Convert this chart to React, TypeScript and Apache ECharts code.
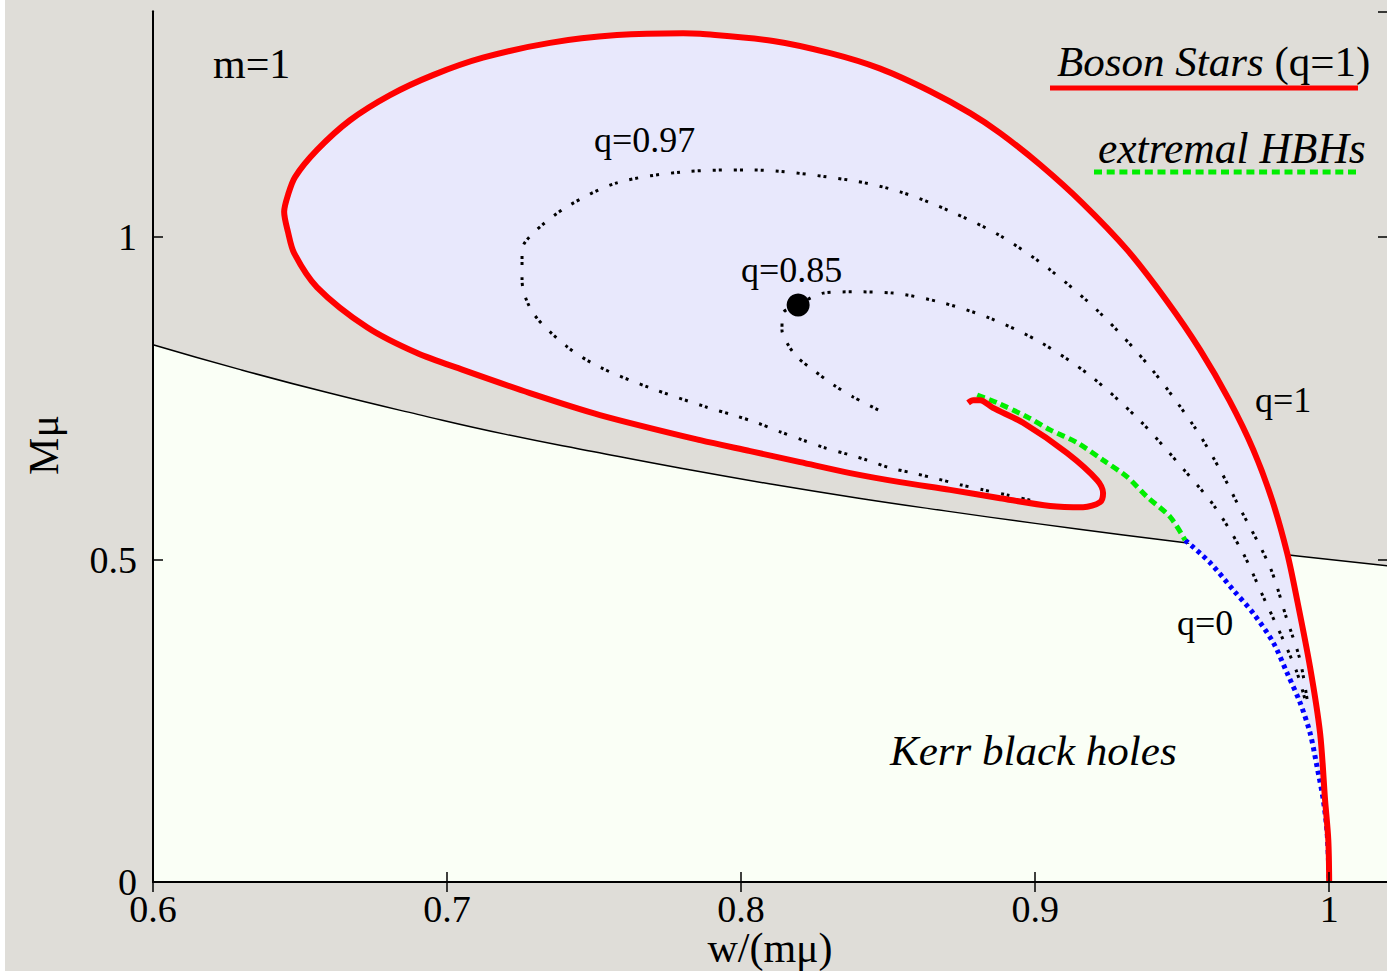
import React, { useEffect, useRef } from "react";
import * as echarts from "echarts";

// Axis ranges and ticks
const W_MIN = 0.6;
const W_MAX = 1.02;
const M_MIN = 0;
const M_MAX = 1.35;
const W_TICK = 0.1;
const M_TICK = 0.5;

// Extremal Kerr boundary, M mu against w/(m mu)
const kerrLine: [number, number][] = [
  [0.6, 0.833], [0.63, 0.794], [0.66, 0.758], [0.69, 0.725], [0.72, 0.694],
  [0.75, 0.667], [0.78, 0.641], [0.81, 0.617], [0.84, 0.595], [0.87, 0.575],
  [0.9, 0.556], [0.93, 0.538], [0.96, 0.521], [0.99, 0.505], [1.02, 0.49],
];

// Boson stars (q = 1), from the vacuum limit along the spiral
const bosonStars: [number, number][] = [
  [1.0, 0.0], [0.9997, 0.065], [0.9986, 0.127], [0.9969, 0.231], [0.9935, 0.333],
  [0.9891, 0.437], [0.9857, 0.51], [0.9806, 0.592], [0.9742, 0.67], [0.966, 0.747],
  [0.9561, 0.825], [0.9446, 0.902], [0.9313, 0.98], [0.916, 1.053], [0.9017, 1.112],
  [0.8881, 1.161], [0.8779, 1.192], [0.8643, 1.226], [0.8473, 1.261], [0.8303, 1.285],
  [0.8109, 1.304], [0.7861, 1.315], [0.7803, 1.316], [0.7578, 1.313], [0.735, 1.301],
  [0.7122, 1.278], [0.6952, 1.251], [0.6806, 1.22], [0.667, 1.181], [0.6558, 1.135],
  [0.6483, 1.093], [0.6459, 1.065], [0.6446, 1.039], [0.6459, 1.008], [0.648, 0.975],
  [0.6558, 0.922], [0.6728, 0.86], [0.6898, 0.82], [0.7054, 0.794], [0.7282, 0.758],
  [0.752, 0.724], [0.7861, 0.685], [0.8031, 0.668], [0.8201, 0.651], [0.8371, 0.634],
  [0.8541, 0.62], [0.8711, 0.608], [0.8881, 0.595], [0.9051, 0.583], [0.9163, 0.581],
  [0.9221, 0.589], [0.9231, 0.603], [0.9211, 0.623], [0.9109, 0.665], [0.8959, 0.712],
  [0.8857, 0.735], [0.8813, 0.747], [0.8789, 0.747], [0.8772, 0.743],
];

// Extremal hairy black holes
const extremalHBH: [number, number][] = [
  [0.8803, 0.755], [0.8871, 0.743], [0.8973, 0.721], [0.9051, 0.701], [0.9143, 0.681],
  [0.9231, 0.654], [0.9313, 0.628], [0.9381, 0.597], [0.9459, 0.566], [0.951, 0.53],
];

// Existence line q = 0
const qZero: [number, number][] = [
  [0.951, 0.53], [0.9595, 0.495], [0.9673, 0.453], [0.9741, 0.417], [0.981, 0.371],
  [0.9857, 0.324], [0.9901, 0.278], [0.9935, 0.231], [0.9959, 0.178], [0.998, 0.127],
  [0.9993, 0.076], [1.0, 0.0],
];

// Hairy black holes with fixed q
const q097: [number, number][] = [
  [0.8983, 0.592], [0.8905, 0.6], [0.8823, 0.608], [0.8745, 0.616], [0.8667, 0.625],
  [0.8585, 0.634], [0.8507, 0.642], [0.8429, 0.654], [0.8371, 0.662], [0.8279, 0.674],
  [0.8211, 0.685], [0.8133, 0.698], [0.8054, 0.712], [0.7973, 0.724], [0.7884, 0.736],
  [0.7691, 0.766], [0.752, 0.798], [0.7408, 0.83], [0.7293, 0.882], [0.7255, 0.933],
  [0.7255, 0.98], [0.7293, 1.006], [0.7408, 1.047], [0.7578, 1.084], [0.7803, 1.101],
  [0.8031, 1.104], [0.8371, 1.088], [0.8541, 1.07], [0.8711, 1.04], [0.8881, 1.002],
  [0.9051, 0.949], [0.9221, 0.882], [0.9391, 0.798], [0.9544, 0.704], [0.9629, 0.639],
  [0.969, 0.585], [0.9799, 0.488], [0.9857, 0.406], [0.9901, 0.344], [0.9929, 0.271],
];

const q085: [number, number][] = [
  [0.8466, 0.732], [0.8381, 0.752], [0.8313, 0.771], [0.8245, 0.794], [0.819, 0.814],
  [0.8156, 0.836], [0.8139, 0.856], [0.8143, 0.882], [0.8194, 0.895], [0.8279, 0.913],
  [0.8381, 0.915], [0.8517, 0.913], [0.8677, 0.899], [0.8847, 0.874], [0.9017, 0.837],
  [0.9187, 0.785], [0.9357, 0.715], [0.951, 0.637], [0.9612, 0.581], [0.9707, 0.51],
  [0.9776, 0.442], [0.9844, 0.375], [0.9891, 0.324], [0.9925, 0.271],
];

// Endpoint of the q = 0.85 sequence
const q085End: [number, number][] = [[0.8194, 0.8946]];

// Domain of existence: boson-star line, extremal line, q = 0 line
const existenceRegion: [number, number][] = [...bosonStars, ...extremalHBH, ...qZero];

const SERIF = "'Liberation Serif', 'Times New Roman', serif";

const fmtTick = (v: number, step: number) => {
  const k = Math.round(v / step);
  if (Math.abs(v - k * step) > 1e-6) return "";
  return String(Number(v.toFixed(2)));
};

// Text placed by its baseline (vertical centre sits about 0.34 em above it)
const label = (text: string, x: number, baseline: number, size: number, italic = false, align = "left") => ({
  type: "text",
  x,
  y: baseline - 0.34 * size,
  z: 20,
  style: {
    text,
    font: `${italic ? "italic " : ""}${size}px ${SERIF}`,
    fill: "#000",
    align,
    verticalAlign: "middle",
  },
});

export default function App() {
  const ref = useRef<HTMLDivElement>(null);

  useEffect(() => {
    if (!ref.current) return;
    const chart = echarts.init(ref.current, undefined, { renderer: "svg" });

    const axisLine = { show: true, lineStyle: { color: "#000", width: 2 } };
    const axisTick = { show: true, inside: true, length: 10, lineStyle: { color: "#000", width: 1.5 } };
    const tickLabel = { color: "#000", fontFamily: SERIF, fontSize: 38 };
    const dotted = { color: "#000", width: 3, type: [3, 3, 3, 12], cap: "butt" };

    const smooth = 0.3;

    chart.setOption({
      animation: false,
      backgroundColor: "#dfddd8",
      grid: {
        left: 153,
        top: 11.25,
        width: 1235,
        height: 870.75,
        outerBoundsMode: "none",
        containLabel: false,
      },
      xAxis: [
        {
          type: "value", min: W_MIN, max: W_MAX, interval: W_TICK, position: "bottom", z: 10,
          axisLine, axisTick, splitLine: { show: false },
          axisLabel: { ...tickLabel, margin: 8, showMaxLabel: false, formatter: (v: number) => fmtTick(v, W_TICK) },
        },
        {
          type: "value", min: W_MIN, max: W_MAX, interval: W_TICK, position: "top", z: 10,
          axisLine, axisTick, splitLine: { show: false }, axisLabel: { show: false },
        },
      ],
      yAxis: [
        {
          type: "value", min: M_MIN, max: M_MAX, interval: M_TICK, position: "left", z: 10,
          axisLine, axisTick, splitLine: { show: false },
          axisLabel: { ...tickLabel, margin: 16, showMaxLabel: false, formatter: (v: number) => fmtTick(v, M_TICK) },
        },
        {
          type: "value", min: M_MIN, max: M_MAX, interval: M_TICK, position: "right", z: 10,
          axisLine, axisTick, splitLine: { show: false }, axisLabel: { show: false },
        },
      ],
      series: [
        {
          name: "Kerr",
          type: "line",
          data: kerrLine,
          smooth: true,
          showSymbol: false,
          silent: true,
          z: 1,
          lineStyle: { color: "#000", width: 1.5 },
          areaStyle: { color: "#fafff6", opacity: 1, origin: "start" },
        },
        {
          name: "region",
          type: "custom",
          coordinateSystem: "cartesian2d",
          silent: true,
          z: 2,
          data: [[0.8, 1.0]],
          renderItem: (_p: any, api: any) => ({
            type: "polygon",
            shape: { points: existenceRegion.map((p) => api.coord(p)), smooth },
            style: { fill: "#e8e8fc", stroke: "none" },
          }),
        },
        {
          name: "q=0.97", type: "line", data: q097, smooth, showSymbol: false, silent: true, z: 3,
          lineStyle: dotted,
        },
        {
          name: "q=0.85", type: "line", data: q085, smooth, showSymbol: false, silent: true, z: 3,
          lineStyle: dotted,
        },
        {
          name: "q=0", type: "line", data: qZero, smooth, showSymbol: false, silent: true, z: 4,
          lineStyle: { color: "#0000ff", width: 5, type: [4, 4], cap: "butt" },
        },
        {
          name: "extremal HBHs", type: "line", data: extremalHBH, smooth, showSymbol: false, silent: true, z: 4,
          lineStyle: { color: "#00ee00", width: 5, type: [8, 4.7], cap: "butt" },
        },
        {
          name: "Boson Stars", type: "line", data: bosonStars, smooth, showSymbol: false, silent: true, z: 5,
          lineStyle: { color: "#ff0000", width: 6 },
        },
        {
          name: "end point", type: "scatter", data: q085End, symbolSize: 23, silent: true, z: 6,
          itemStyle: { color: "#000", opacity: 1 },
        },
      ],
      graphic: [
        { type: "rect", left: 0, top: 0, shape: { width: 5, height: 971 }, style: { fill: "#ffffff" }, z: 0 },
        label("m=1", 213, 78, 42),
        {
          type: "text", x: 1057, y: 76 - 0.34 * 43, z: 20,
          style: {
            text: "{i|Boson Stars }{n|(q=1)}",
            verticalAlign: "middle",
            rich: {
              i: { font: `italic 43px ${SERIF}`, fill: "#000", verticalAlign: "middle" },
              n: { font: `43px ${SERIF}`, fill: "#000", verticalAlign: "middle" },
            },
          },
        },
        { type: "line", z: 20, shape: { x1: 1050, y1: 88, x2: 1358, y2: 88 }, style: { stroke: "#ff0000", lineWidth: 5 } },
        label("extremal HBHs", 1098, 163, 43.5, true),
        {
          type: "line", z: 20, shape: { x1: 1094, y1: 172, x2: 1358, y2: 172 },
          style: { stroke: "#00ee00", lineWidth: 5, lineDash: [8, 4.7] },
        },
        label("q=0.97", 594, 152, 36),
        label("q=0.85", 741, 282, 36),
        label("q=1", 1255, 412, 36),
        label("q=0", 1177, 635, 36),
        label("Kerr black holes", 890, 765, 43, true),
        label("w/(mμ)", 770, 962, 42, false, "center"),
        {
          type: "text", x: 44, y: 445, rotation: Math.PI / 2, z: 20,
          style: { text: "Mμ", font: `42px ${SERIF}`, fill: "#000", align: "center", verticalAlign: "middle" },
        },
      ],
    });

    return () => chart.dispose();
  }, []);

  return (
    <div
      ref={ref}
      style={{ position: "absolute", left: 0, top: 0, width: 1387, height: 971 }}
    />
  );
}
